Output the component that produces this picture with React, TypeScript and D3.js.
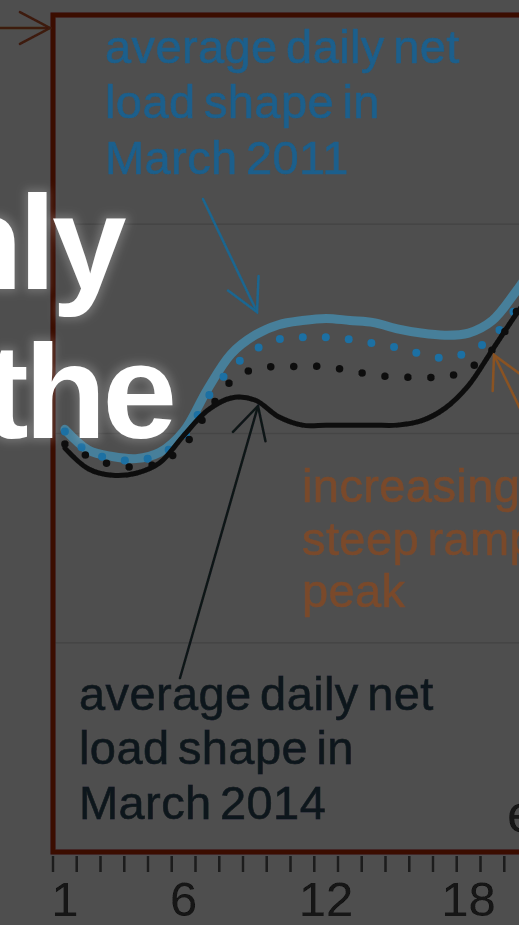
import React from "react";
import * as d3 from "d3";

// hour of day (1..21, last one runs past the right edge of the crop)
const hours = [1, 2, 3, 4, 5, 6, 7, 8, 9, 10, 11, 12, 13, 14, 15, 16, 17, 18, 19, 20, 21];

// average daily net load (arbitrary units, gridlines at 1/2/3)
const load2011 = [2.02, 1.92, 1.89, 1.88, 1.91, 2.01, 2.21, 2.38, 2.47, 2.52, 2.54, 2.55, 2.54, 2.53, 2.5, 2.48, 2.47, 2.48, 2.54, 2.68, 2.85];
const load2012 = [2.01, 1.91, 1.88, 1.87, 1.9, 1.98, 2.17, 2.31, 2.4, 2.45, 2.46, 2.46, 2.45, 2.43, 2.41, 2.38, 2.36, 2.39, 2.46, 2.6, 2.78];
const load2013 = [1.95, 1.89, 1.85, 1.84, 1.86, 1.94, 2.1, 2.25, 2.31, 2.32, 2.32, 2.32, 2.3, 2.28, 2.27, 2.27, 2.27, 2.31, 2.4, 2.58, 2.76];
const load2014 = [1.93, 1.83, 1.8, 1.81, 1.86, 1.99, 2.11, 2.17, 2.16, 2.08, 2.04, 2.04, 2.04, 2.04, 2.04, 2.06, 2.12, 2.23, 2.4, 2.57, 2.73];

const gridValues = [1, 2, 3];
const tickLabels = [1, 6, 12, 18, 24];

const W = 519;
const H = 925;

const x = d3.scaleLinear().domain([0.5, 24.5]).range([53, 623]);
const y = d3.scaleLinear().domain([0, 4]).range([852, 15]);

const line = d3
  .line<number>()
  .x((d, i) => x(hours[i]))
  .y(d => y(d))
  .curve(d3.curveCatmullRom.alpha(0.5));

// open arrow: shaft from tail to tip plus two barbs
function Arrow({ tail, tip, color, width = 2.5, len = 36 }: any) {
  const dx = tail[0] - tip[0];
  const dy = tail[1] - tip[1];
  const n = Math.hypot(dx, dy);
  const ux = dx / n;
  const uy = dy / n;
  const a = (28 * Math.PI) / 180;
  const c = Math.cos(a);
  const s = Math.sin(a);
  const b1 = [tip[0] + len * (ux * c - uy * s), tip[1] + len * (ux * s + uy * c)];
  const b2 = [tip[0] + len * (ux * c + uy * s), tip[1] + len * (-ux * s + uy * c)];
  return (
    <g stroke={color} strokeWidth={width} fill="none" strokeLinecap="round">
      <line x1={tail[0]} y1={tail[1]} x2={tip[0]} y2={tip[1]} />
      <polyline points={`${b1[0]},${b1[1]} ${tip[0]},${tip[1]} ${b2[0]},${b2[1]}`} />
    </g>
  );
}

export default function App() {
  const font = "'Liberation Sans', Arial, sans-serif";
  const boundaries = d3.range(0, 24).map(k => k + 0.5);
  const note = { fontFamily: font, fontSize: 47, letterSpacing: 0.4, wordSpacing: -5, strokeWidth: 0.6 };

  return (
    <div style={{ position: "fixed", left: 0, top: 0, width: W, height: H, overflow: "hidden", background: "#4e4e4e" }}>
      <svg width={W} height={H} style={{ display: "block" }}>
        <defs>
          <filter id="soft" x="-5%" y="-5%" width="110%" height="110%">
            <feGaussianBlur stdDeviation="0.7" />
          </filter>
          <filter id="glow" x="-20%" y="-20%" width="140%" height="140%">
            <feMorphology in="SourceAlpha" operator="dilate" radius="3" result="d" />
            <feGaussianBlur in="d" stdDeviation="4" result="b" />
            <feFlood floodColor="#ffffff" floodOpacity="0.2" />
            <feComposite in2="b" operator="in" result="g" />
            <feMerge>
              <feMergeNode in="g" />
              <feMergeNode in="SourceGraphic" />
            </feMerge>
          </filter>
        </defs>

        <rect width={W} height={H} fill="#4e4e4e" />

        <g filter="url(#soft)">
          {/* gridlines */}
          {gridValues.map(v => (
            <line key={v} x1={x(0.5)} x2={W} y1={y(v)} y2={y(v)} stroke="#454545" strokeWidth={1.5} />
          ))}

          {/* series */}
          <path d={line(load2011) || ""} fill="none" stroke="#467f9a" strokeWidth={9} strokeLinecap="round" />
          <path d={line(load2012) || ""} fill="none" stroke="#1a6fa3" strokeWidth={8} strokeLinecap="round" strokeDasharray="0 23" />
          <path d={line(load2013) || ""} fill="none" stroke="#0e0e0e" strokeWidth={7.5} strokeLinecap="round" strokeDasharray="0 23" />
          <path d={line(load2014) || ""} fill="none" stroke="#0c0c0c" strokeWidth={5} strokeLinecap="round" />

          {/* frame */}
          <rect x={x(0.5)} y={y(4)} width={620} height={y(0) - y(4)} fill="none" stroke="#3b0b05" strokeWidth={5} />

          {/* hour ticks and labels */}
          {boundaries.map(b => (
            <line key={b} x1={x(b)} x2={x(b)} y1={856} y2={872} stroke="#1a1a1a" strokeWidth={2.5} />
          ))}
          {tickLabels.map(t => (
            <text key={t} x={x(t)} y={916} textAnchor="middle" fontFamily={font} fontSize={49} fill="#121212">
              {t}
            </text>
          ))}

          {/* annotations */}
          <text {...note} fill="#1b5f8c" stroke="#1b5f8c">
            <tspan x={105} y={63}>average daily net</tspan>
            <tspan x={105} y={118}>load shape in</tspan>
            <tspan x={105} y={174}>March 2011</tspan>
          </text>
          <Arrow tail={[203, 199]} tip={[257, 312]} color="#1a6690" />

          <text {...note} fill="#11171c" stroke="#11171c">
            <tspan x={79} y={710}>average daily net</tspan>
            <tspan x={79} y={764}>load shape in</tspan>
            <tspan x={79} y={819}>March 2014</tspan>
          </text>
          <Arrow tail={[180, 678]} tip={[258, 406]} color="#101418" />

          <text {...note} fill="#7a4a2c" stroke="#7a4a2c">
            <tspan x={302} y={502}>increasingly</tspan>
            <tspan x={302} y={555}>steep ramp to</tspan>
            <tspan x={302} y={607}>peak</tspan>
          </text>
          <Arrow tail={[545, 460]} tip={[494, 355]} color="#8a5222" />

          <Arrow tail={[-10, 28]} tip={[50, 28]} color="#3e1a10" len={34} />

          <text x={507} y={832} fontFamily={font} fontSize={54} fill="#121212">eia</text>
        </g>

        {/* title overlay */}
        <g filter="url(#glow)" fontFamily={font} fontWeight="bold" fontSize={134} fill="#ffffff" letterSpacing={-4}>
          <text x={-59} y={289}>nly</text>
          <text x={-16} y={438}>the</text>
        </g>
      </svg>
    </div>
  );
}
